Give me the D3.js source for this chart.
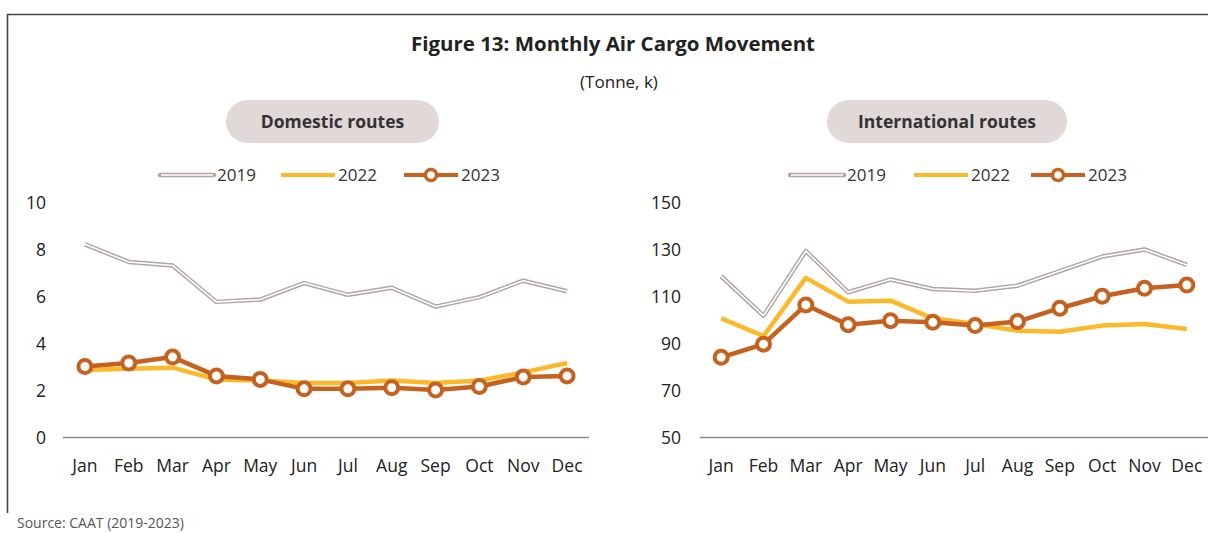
<!DOCTYPE html>
<html>
<head>
<meta charset="utf-8">
<script src="https://cdn.jsdelivr.net/npm/d3@7"></script>
<style>
  body { margin: 0; background: #fff; }
  text { font-family: "Open Sans", "Noto Sans", sans-serif; fill: #222; }
</style>
</head>
<body>
<script>
var W = 1208, H = 533;
var months = ['Jan','Feb','Mar','Apr','May','Jun','Jul','Aug','Sep','Oct','Nov','Dec'];
var years = ['2019','2022','2023'];

// domestic (tonne, k)
var dom2019 = [8.2, 7.45, 7.3, 5.75, 5.85, 6.55, 6.05, 6.35, 5.55, 5.95, 6.65, 6.2];
var dom2022 = [2.85, 2.9, 2.95, 2.45, 2.4, 2.3, 2.3, 2.4, 2.3, 2.4, 2.75, 3.15];
var dom2023 = [3.0, 3.15, 3.4, 2.6, 2.45, 2.05, 2.05, 2.1, 2.0, 2.15, 2.55, 2.6];
var domTicks = [0, 2, 4, 6, 8, 10];

// international (tonne, k)
var int2019 = [118.4, 101.6, 129.2, 111.6, 117.0, 113.0, 112.2, 114.4, 120.6, 126.8, 129.8, 123.2];
var int2022 = [100.5, 93, 117.7, 107.6, 108, 100.5, 98.1, 95.2, 94.8, 97.4, 98.1, 96];
var int2023 = [83.9, 89.5, 106.2, 97.8, 99.5, 98.8, 97.4, 99.1, 104.8, 109.9, 113.3, 114.7];
var intTicks = [50, 70, 90, 110, 130, 150];

var colors = { '2019': '#b3a5a5', '2022': '#fbb828', '2023': '#c5621f' };

var svg = d3.select('body').append('svg').attr('width', W).attr('height', H);

// frame
svg.append('path').attr('d', 'M7.5,513 V14.5 H1208').attr('fill', 'none')
  .attr('stroke', '#444').attr('stroke-width', 1.6);

svg.append('text').attr('x', 613).attr('y', 51).attr('text-anchor', 'middle')
  .style('font-size', '20px').style('font-weight', 700)
  .attr('textLength', 404).attr('lengthAdjust', 'spacingAndGlyphs')
  .text('Figure 13: Monthly Air Cargo Movement');
svg.append('text').attr('x', 619).attr('y', 88).attr('text-anchor', 'middle')
  .style('font-size', '17px').text('(Tonne, k)');
svg.append('text').attr('x', 17).attr('y', 528)
  .style('font-size', '14px').style('fill', '#555').text('Source: CAAT (2019-2023)');

function panel(opt) {
  var g = svg.append('g');
  var x = d3.scalePoint().domain(months).range(opt.xr).padding(0.5);
  var y = d3.scaleLinear().domain(opt.dom).range([437, 202]);

  // pill
  g.append('rect').attr('x', opt.pill[0]).attr('y', 100).attr('width', opt.pill[1] - opt.pill[0])
    .attr('height', 43).attr('rx', 21.5).attr('fill', '#e1d8d8');
  g.append('text').attr('x', (opt.pill[0] + opt.pill[1]) / 2).attr('y', 127.5)
    .attr('text-anchor', 'middle').style('font-size', '17.5px').style('font-weight', 700)
    .style('fill', '#333').text(opt.name);

  // legend
  var lg = g.append('g');
  years.forEach(function(yr, i) {
    var x0 = opt.leg[i], x1 = x0 + 54, ly = 175;
    if (yr === '2019') {
      lg.append('line').attr('x1', x0).attr('x2', x1).attr('y1', ly).attr('y2', ly)
        .attr('stroke', colors[yr]).attr('stroke-width', 4.5).attr('stroke-linecap', 'round');
      lg.append('line').attr('x1', x0 + 1).attr('x2', x1 - 1).attr('y1', ly).attr('y2', ly)
        .attr('stroke', '#fff').attr('stroke-width', 1.6);
    } else {
      lg.append('line').attr('x1', x0).attr('x2', x1).attr('y1', ly).attr('y2', ly)
        .attr('stroke', colors[yr]).attr('stroke-width', 4);
    }
    if (yr === '2023') {
      lg.append('circle').attr('cx', (x0 + x1) / 2).attr('cy', ly).attr('r', 5.5)
        .attr('fill', '#fff').attr('stroke', colors[yr]).attr('stroke-width', 3.5);
    }
    lg.append('text').attr('x', x1 + 3).attr('y', ly + 6).style('font-size', '17px')
      .style('fill', '#333').text(yr);
  });

  // y labels
  g.selectAll('.yl').data(opt.ticks).enter().append('text')
    .attr('x', opt.ylx).attr('y', function(d) { return y(d) + 6.5; })
    .attr('text-anchor', 'end').style('font-size', '17.5px').text(function(d) { return d; });

  // baseline
  g.append('line').attr('x1', opt.xr[0]).attr('x2', opt.xr[1])
    .attr('y1', 437.5).attr('y2', 437.5).attr('stroke', '#8a8a8a').attr('stroke-width', 1.3);

  // month labels
  g.selectAll('.ml').data(months).enter().append('text')
    .attr('x', function(d) { return x(d); }).attr('y', 472).attr('text-anchor', 'middle')
    .style('font-size', '17.5px').text(function(d) { return d; });

  var line = d3.line().x(function(d, i) { return x(months[i]); }).y(function(d) { return y(d); });

  // 2019 double line
  g.append('path').attr('d', line(opt.s2019)).attr('fill', 'none')
    .attr('stroke', colors['2019']).attr('stroke-width', 4.5).attr('stroke-linejoin', 'round');
  g.append('path').attr('d', line(opt.s2019)).attr('fill', 'none')
    .attr('stroke', '#fff').attr('stroke-width', 1.6).attr('stroke-linejoin', 'round');

  g.append('path').attr('d', line(opt.s2022)).attr('fill', 'none')
    .attr('stroke', colors['2022']).attr('stroke-width', 4.5).attr('stroke-linejoin', 'round');

  g.append('path').attr('d', line(opt.s2023)).attr('fill', 'none')
    .attr('stroke', colors['2023']).attr('stroke-width', 4.5).attr('stroke-linejoin', 'round');
  g.selectAll('.pt').data(opt.s2023).enter().append('circle')
    .attr('cx', function(d, i) { return x(months[i]); }).attr('cy', function(d) { return y(d); })
    .attr('r', 6.5).attr('fill', '#fff').attr('stroke', colors['2023']).attr('stroke-width', 4);
}

panel({
  name: 'Domestic routes', xr: [63, 589], dom: [0, 10], ticks: domTicks, ylx: 46,
  pill: [226, 439], leg: [160, 281, 404],
  s2019: dom2019, s2022: dom2022, s2023: dom2023
});
panel({
  name: 'International routes', xr: [700, 1208], dom: [50, 150], ticks: intTicks, ylx: 681,
  pill: [827, 1067], leg: [790, 914, 1031],
  s2019: int2019, s2022: int2022, s2023: int2023
});
</script>
</body>
</html>
